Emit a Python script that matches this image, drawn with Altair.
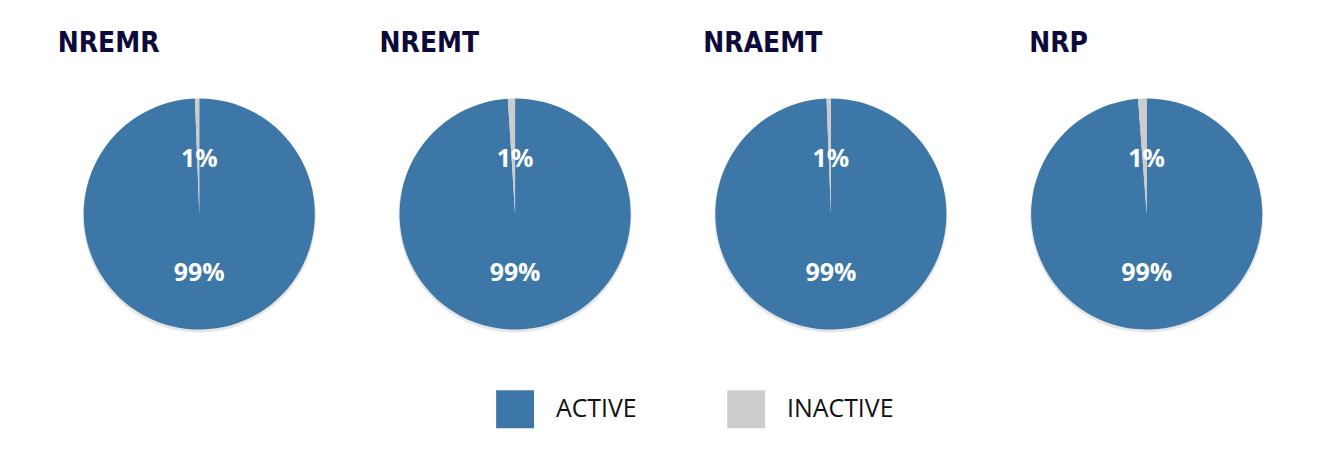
import altair as alt
import pandas as pd

# ---- data ----
programs = ["NREMR", "NREMT", "NRAEMT", "NRP"]
active_pct = [99.4, 99.0, 99.4, 98.8]
inactive_pct = [0.6, 1.0, 0.6, 1.2]
active_labels = ["99%", "99%", "99%", "99%"]
inactive_labels = ["1%", "1%", "1%", "1%"]
status_names = ["ACTIVE", "INACTIVE"]

# ---- build tables ----
rows = []
for i, p in enumerate(programs):
    a = active_pct[i]
    n = inactive_pct[i]
    rows.append({"program": p, "status": "ACTIVE", "start": 0.0, "end": a, "label": active_labels[i]})
    rows.append({"program": p, "status": "INACTIVE", "start": a, "end": a + n, "label": inactive_labels[i]})
slices = pd.DataFrame(rows)
shadow = pd.DataFrame({"program": programs, "start": [0.0] * 4, "end": [100.0] * 4})

W, H = 1327, 432
CY = 206
R = 116

xpie = alt.Scale(type="point", domain=programs, range=[192, 1143], padding=0)
th = alt.Scale(domain=[0, 100], range=[0, 6.283185307179586])
color = alt.Scale(domain=status_names, range=["#3c77a8", "#cccccc"])

X = alt.X("program:N", scale=xpie, axis=None, sort=programs)

shadow1 = alt.Chart(shadow).mark_arc(outerRadius=R + 1, color="#9a9a9a", opacity=0.25).encode(
    x=X,
    y=alt.value(CY + 2),
    theta=alt.Theta("start:Q", scale=th),
    theta2="end:Q",
)

pies = alt.Chart(slices).mark_arc(outerRadius=R).encode(
    x=X,
    y=alt.value(CY),
    theta=alt.Theta("start:Q", scale=th),
    theta2="end:Q",
    color=alt.Color(
        "status:N",
        scale=color,
        legend=alt.Legend(
            title=None,
            orient="none",
            direction="horizontal",
            legendX=490,
            legendY=383,
            symbolType="square",
            symbolSize=1444,
            symbolStrokeWidth=0,
            symbolOpacity=1,
            labelFont="Open Sans",
            labelFontSize=25,
            labelColor="#111111",
            labelOffset=22,
            columnPadding=90,
            labelLimit=300,
        ),
    ),
)

active_txt = alt.Chart(slices).transform_filter(alt.datum.status == "ACTIVE").mark_text(
    font="Open Sans", fontWeight="bold", fontSize=25, color="white", baseline="middle", align="center"
).encode(
    x=X,
    y=alt.value(CY + 59),
    text="label:N",
)

inactive_txt = alt.Chart(slices).transform_filter(alt.datum.status == "INACTIVE").mark_text(
    font="Open Sans", fontWeight="bold", fontSize=25, color="white", baseline="middle", align="center"
).encode(
    x=X,
    y=alt.value(CY - 55),
    text="label:N",
)

# titles: left-aligned, each with its own offset from the pie centre
title_dx = [-142, -136, -128, -118]
title_layers = []
for p, d in zip(programs, title_dx):
    title_layers.append(
        alt.Chart(shadow).transform_filter(alt.datum.program == p).mark_text(
            font="DejaVu Sans Condensed",
            fontWeight="bold",
            fontSize=28,
            color="#0c0a3a",
            align="left",
            baseline="alphabetic",
            dx=d,
        ).encode(x=X, y=alt.value(43), text="program:N")
    )

chart = (
    alt.layer(shadow1, pies, active_txt, inactive_txt, *title_layers)
    .properties(width=W, height=H, autosize=alt.AutoSizeParams(type="fit", contains="padding"), padding=0, background="white")
    .configure_view(stroke=None)
)

chart.save("out.html", embed_options={"renderer": "svg", "actions": False})
